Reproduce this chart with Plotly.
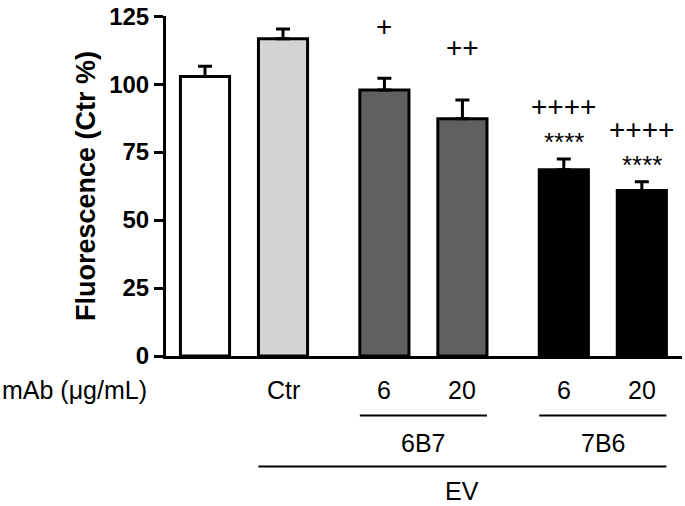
import plotly.graph_objects as go

# data
groups = ["", "Ctr", "6", "20", "6", "20"]
means = [102.8, 116.7, 97.8, 87.3, 68.5, 60.9]
sems = [3.8, 3.6, 4.4, 6.9, 4.0, 3.2]
colors = ["#ffffff", "#d3d3d3", "#606060", "#606060", "#000000", "#000000"]
plus_marks = ["", "", "+", "++", "++++", "++++"]
star_marks = ["", "", "", "", "****", "****"]
mab_groups = ["6B7", "7B6"]

# layout helpers
x_pos = [0, 1, 2.3, 3.3, 4.6, 5.6]
bar_w = 0.63
W, H = 685, 506
ML, MR, MT, MB = 166, 3, 11, 150
ph = H - MT - MB
pw = W - ML - MR

def py(pix):
    # pixel row -> paper y
    return (H - MB - pix) / ph

FONT = "Liberation Sans, Arial, sans-serif"

fig = go.Figure()
fig.add_trace(go.Bar(
    x=x_pos, y=means, width=bar_w,
    marker=dict(color=colors, line=dict(color="black", width=3)),
    error_y=dict(type="data", array=sems, arrayminus=[0] * len(sems), symmetric=False,
                 color="black", thickness=3, width=7),
    showlegend=False, hoverinfo="skip",
))

ann = []
for xp, m, s, p, st in zip(x_pos, means, sems, plus_marks, star_marks):
    if p:
        ann.append(dict(x=xp, y=m + s, text=p, showarrow=False, yanchor="middle",
                        yshift=52, font=dict(size=28, color="black", family=FONT)))
    if st:
        ann.append(dict(x=xp, y=m + s, text=st, showarrow=False, yanchor="middle",
                        yshift=17, font=dict(size=26, color="black", family=FONT)))

# bottom labels
for xp, g in zip(x_pos, groups):
    if g:
        ann.append(dict(x=xp, y=py(391), yref="paper", text=g, showarrow=False,
                        yanchor="middle", font=dict(size=25, color="black", family=FONT)))
ann.append(dict(x=-ML / pw, y=py(391), xref="paper", yref="paper", text="mAb (\u03bcg/mL)",
                showarrow=False, xanchor="left", yanchor="middle",
                font=dict(size=25, color="black", family=FONT)))
ann.append(dict(x=(x_pos[2] + x_pos[3]) / 2, y=py(444), yref="paper", text=mab_groups[0],
                showarrow=False, yanchor="middle", font=dict(size=25, color="black", family=FONT)))
ann.append(dict(x=(x_pos[4] + x_pos[5]) / 2, y=py(444), yref="paper", text=mab_groups[1],
                showarrow=False, yanchor="middle", font=dict(size=25, color="black", family=FONT)))
ann.append(dict(x=(x_pos[1] + x_pos[5]) / 2, y=py(493), yref="paper", text="EV",
                showarrow=False, yanchor="middle", font=dict(size=25, color="black", family=FONT)))
# y title
ann.append(dict(x=(86 - ML) / pw, y=0.5, xref="paper", yref="paper", text="<b>Fluorescence (Ctr %)</b>",
                textangle=-90, showarrow=False, xanchor="center", yanchor="middle",
                font=dict(size=27, color="black", family=FONT)))

shapes = [
    dict(type="line", xref="x", yref="paper", x0=x_pos[2] - bar_w / 2, x1=x_pos[3] + bar_w / 2,
         y0=py(416.5), y1=py(416.5), line=dict(color="black", width=2)),
    dict(type="line", xref="x", yref="paper", x0=x_pos[4] - bar_w / 2, x1=x_pos[5] + bar_w / 2,
         y0=py(416.5), y1=py(416.5), line=dict(color="black", width=2)),
    dict(type="line", xref="x", yref="paper", x0=x_pos[1] - bar_w / 2, x1=x_pos[5] + bar_w / 2,
         y0=py(468), y1=py(468), line=dict(color="black", width=2)),
]

fig.update_layout(
    width=W, height=H,
    margin=dict(l=ML, r=MR, t=MT, b=MB),
    plot_bgcolor="white", paper_bgcolor="white",
    annotations=ann, shapes=shapes,
    xaxis=dict(range=[-0.5, 6.115], showticklabels=False, ticks="", showgrid=False,
               zeroline=False, showline=True, linecolor="black", linewidth=3),
    yaxis=dict(range=[0, 125.05], tickvals=[0, 25, 50, 75, 100, 125], ticks="outside",
               ticklen=9, tickwidth=3, tickcolor="black", showgrid=False, zeroline=False,
               showline=True, linecolor="black", linewidth=3, ticklabeloverflow="allow",
               tickfont=dict(size=24, color="black", family=FONT, weight="bold")),
)

fig.write_html("out.html", config={"displayModeBar": False},
               post_script="document.body.style.margin='0';document.body.style.overflow='hidden';")
